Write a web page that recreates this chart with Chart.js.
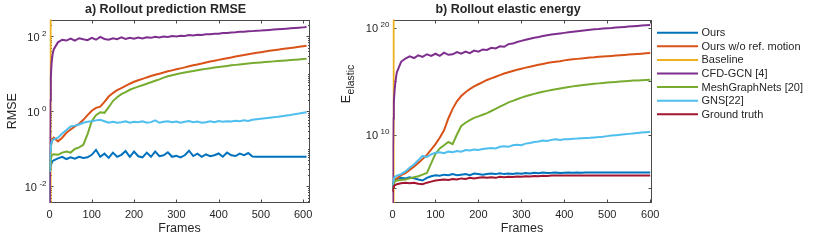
<!DOCTYPE html>
<html lang="en">
<head>
<meta charset="UTF-8">
<title>Rollout prediction RMSE / elastic energy</title>
<script src="https://cdn.jsdelivr.net/npm/chart.js"></script>
<style>
  body { margin: 0; background: #fff; }
  #wrap { position: relative; width: 830px; height: 240px; overflow: hidden; }
  #chartA, #chartB { position: absolute; top: 0; }
  #chartA { left: 0; }
  #chartB { left: 330px; }
</style>
</head>
<body>
<div id="wrap">
  <canvas id="chartA" width="330" height="240"></canvas>
  <canvas id="chartB" width="500" height="240"></canvas>
</div>
<script>
// legend / colours (MATLAB default order)
const seriesNames = ['Ours', 'Ours w/o ref. motion', 'Baseline', 'CFD-GCN [4]', 'MeshGraphNets [20]', 'GNS[22]', 'Ground truth'];
const seriesColors = ['#0072BD', '#D95319', '#EDB120', '#7E2F8E', '#77AC30', '#4DBEEE', '#A2142F'];
const xTicks = [0, 100, 200, 300, 400, 500, 600];

// a) rollout prediction RMSE
const framesA = [0, 1, 2, 3, 5, 7, 10, 20, 30, 40, 50, 60, 70, 80, 90, 100, 110, 120, 130, 140, 150,
  160, 170, 180, 190, 200, 210, 220, 230, 240, 250, 260, 270, 280, 290, 300, 310, 320, 330, 340, 350,
  360, 370, 380, 390, 400, 410, 420, 430, 440, 450, 460, 470, 480, 490, 500, 510, 520, 530, 540, 550,
  560, 570, 580, 590, 600, 608];
const rmseOurs = [0.003, 0.02, 0.03, 0.036, 0.042, 0.047, 0.05,
  0.056, 0.062, 0.054, 0.06, 0.055, 0.062, 0.058, 0.06, 0.07, 0.095,
  0.062, 0.075, 0.058, 0.08, 0.062, 0.07, 0.088, 0.062, 0.085, 0.064,
  0.06, 0.08, 0.062, 0.085, 0.064, 0.068, 0.082, 0.062, 0.066, 0.06,
  0.068, 0.09, 0.065, 0.075, 0.062, 0.072, 0.064, 0.068, 0.076, 0.062,
  0.08, 0.068, 0.065, 0.075, 0.068, 0.078, 0.063, 0.062, 0.062, 0.062,
  0.062, 0.062, 0.062, 0.062, 0.062, 0.062, 0.062, 0.062, 0.062, 0.062];
const rmseNoRef = [0.026, 0.05, 0.08, 0.11, 0.15, 0.18, 0.2,
  0.16, 0.2, 0.27, 0.33, 0.4, 0.47, 0.6, 0.8, 1.05, 1.25,
  1.35, 1.8, 2.5, 3.1, 3.7, 4.2, 4.8, 5.5, 6.2, 6.8,
  7.4, 8.1, 8.8, 9.5, 10.2, 11, 11.8, 12.5, 13.3, 14.1,
  15, 16, 17, 18, 19, 20.2, 21.4, 22.6, 23.8, 25,
  26.3, 27.7, 29.1, 30.5, 32, 33.5, 35, 36.6, 38.2, 39.8,
  41.4, 43, 44.6, 46.2, 47.8, 49.5, 51.2, 53, 55, 56.5];
const baseFramesA = [0, 2, 2.5];
const rmseBaseline = [0.0005, 0.003, 1000000];
const rmseCfdGcn = [0.002, 0.05, 2, 8, 20, 32, 45,
  70, 82, 78, 88, 78, 90, 84, 80, 92, 82,
  98, 86, 82, 90, 85, 95, 86, 92, 87, 94,
  89, 95, 92, 98, 94, 100, 97, 103, 100, 105,
  103, 109, 107, 112, 110, 115, 114, 119, 118, 123,
  124, 128, 129, 133, 134, 137, 139, 142, 144, 147,
  150, 153, 156, 159, 162, 165, 169, 172, 175, 178];
const rmseMgn = [0.026, 0.035, 0.045, 0.055, 0.065, 0.07, 0.072,
  0.07, 0.08, 0.085, 0.08, 0.1, 0.11, 0.13, 0.25, 0.55, 0.8,
  0.95, 0.92, 1.3, 1.9, 2.4, 2.9, 3.3, 3.8, 4.2, 4.6,
  5.0, 5.5, 6.0, 6.6, 7.2, 8.0, 8.7, 9.3, 9.9, 10.4,
  11, 11.5, 12, 12.6, 13.1, 13.7, 14.2, 14.8, 15.3, 15.8,
  16.4, 17, 17.5, 18, 18.5, 19, 19.5, 20, 20.4, 20.9,
  21.3, 21.7, 22.1, 22.6, 23, 23.5, 24, 24.5, 25, 25.3];
const rmseGns = [0.026, 0.06, 0.09, 0.12, 0.15, 0.17, 0.18,
  0.2, 0.26, 0.32, 0.4, 0.42, 0.45, 0.5, 0.53, 0.55, 0.58,
  0.6, 0.55, 0.5, 0.53, 0.5, 0.52, 0.55, 0.5, 0.53, 0.52,
  0.55, 0.5, 0.52, 0.58, 0.5, 0.53, 0.55, 0.52, 0.54, 0.5,
  0.53, 0.56, 0.52, 0.54, 0.5, 0.52, 0.55, 0.52, 0.56, 0.53,
  0.55, 0.54, 0.57, 0.55, 0.58, 0.56, 0.6, 0.62, 0.64, 0.66,
  0.68, 0.7, 0.72, 0.75, 0.78, 0.81, 0.85, 0.88, 0.92, 0.95];

// b) rollout elastic energy, stored as log10(E)
const framesB = [0, 1, 2, 3, 5, 7, 10, 20, 30, 40, 50, 60, 70, 80, 90, 100, 110, 120, 130, 140, 150,
  160, 170, 180, 190, 200, 210, 220, 230, 240, 250, 260, 270, 280, 290, 300, 310, 320, 330, 340, 350,
  360, 370, 380, 390, 400, 410, 420, 430, 440, 450, 460, 470, 480, 490, 500, 510, 520, 530, 540, 550,
  560, 570, 580, 590, 600];
const logEOurs = [4.7, 5.2, 5.5, 5.65, 5.75, 5.8, 5.85,
  5.95, 5.9, 6.0, 5.9, 5.8, 5.7, 5.95, 6.1, 6.2, 6.15,
  6.25, 6.2, 6.3, 6.2, 6.25, 6.3, 6.2, 6.35, 6.3, 6.25,
  6.3, 6.35, 6.3, 6.38, 6.3, 6.35, 6.32, 6.38, 6.33, 6.4,
  6.35, 6.42, 6.38, 6.45, 6.4, 6.42, 6.45, 6.4, 6.43, 6.45,
  6.42, 6.46, 6.43, 6.45, 6.44, 6.45, 6.45, 6.45, 6.45, 6.45,
  6.45, 6.45, 6.45, 6.45, 6.45, 6.45, 6.45, 6.45, 6.45];
const logENoRef = [4.9, 5.1, 5.3, 5.45, 5.6, 5.75, 5.9,
  6.2, 6.4, 6.7, 7.0, 7.35, 7.7, 8.1, 8.6, 9.1, 9.7,
  10.4, 11.5, 12.4, 13.1, 13.6, 13.95, 14.25, 14.5, 14.7, 14.9,
  15.1, 15.25, 15.4, 15.55, 15.7, 15.82, 15.94, 16.05, 16.15, 16.25,
  16.34, 16.43, 16.52, 16.6, 16.68, 16.75, 16.8, 16.85, 16.93, 16.98,
  17.03, 17.07, 17.11, 17.15, 17.19, 17.22, 17.26, 17.29, 17.32, 17.35,
  17.38, 17.41, 17.44, 17.47, 17.5, 17.53, 17.56, 17.59, 17.62];
const baseFramesB = [0, 1.5, 2.5];
const logEBaseline = [2, 3.5, 25];
const logECfdGcn = [3, 8, 11.5, 13, 14.2, 15, 15.8,
  16.8, 17.1, 17.3, 17.15, 17.4, 17.25, 17.5, 17.35, 17.55, 17.35,
  17.65, 17.45, 17.5, 17.7, 17.55, 17.75, 17.6, 17.85, 17.75, 17.95,
  17.9, 18.1, 18.05, 18.25, 18.2, 18.45, 18.5, 18.65, 18.75, 18.85,
  18.95, 19.05, 19.12, 19.2, 19.28, 19.34, 19.4, 19.45, 19.5, 19.55,
  19.6, 19.65, 19.7, 19.75, 19.8, 19.83, 19.86, 19.9, 19.93, 19.96,
  20.0, 20.03, 20.06, 20.09, 20.12, 20.15, 20.18, 20.21, 20.24];
const logEMgn = [4.9, 5.2, 5.4, 5.5, 5.6, 5.65, 5.7,
  5.75, 5.8, 5.9, 6.0, 6.1, 6.25, 6.4, 7.3, 8.2, 8.7,
  9.0, 9.3, 9.1, 10.0, 10.8, 11.1, 11.35, 11.55, 11.7, 11.85,
  12.0, 12.2, 12.4, 12.6, 12.8, 13.0, 13.15, 13.3, 13.45, 13.58,
  13.7, 13.8, 13.9, 14.0, 14.08, 14.16, 14.24, 14.31, 14.38, 14.44,
  14.5, 14.55, 14.6, 14.65, 14.7, 14.74, 14.78, 14.82, 14.86, 14.89,
  14.92, 14.95, 14.98, 15.01, 15.04, 15.06, 15.08, 15.1, 15.12];
const logEGns = [4.9, 5.4, 5.7, 5.9, 6.0, 6.1, 6.15,
  6.3, 6.55, 6.9, 7.2, 7.6, 8.0, 7.9, 8.15, 8.3, 8.35,
  8.25, 8.4, 8.35, 8.45, 8.4, 8.55, 8.5, 8.6, 8.55, 8.65,
  8.7, 8.75, 8.7, 8.85, 8.9, 8.85, 9.0, 9.05, 9.0, 9.15,
  9.2, 9.3, 9.35, 9.45, 9.4, 9.5, 9.55, 9.5, 9.55, 9.55,
  9.6, 9.62, 9.65, 9.68, 9.7, 9.73, 9.76, 9.8, 9.85, 9.9,
  9.94, 9.98, 10.02, 10.06, 10.1, 10.14, 10.18, 10.22, 10.26];
const logETruth = [4.7, 4.9, 5.05, 5.15, 5.25, 5.3, 5.35,
  5.45, 5.5, 5.45, 5.5, 5.4, 5.35, 5.5, 5.6, 5.7, 5.75,
  5.8, 5.75, 5.85, 5.8, 5.9, 5.85, 5.95, 5.9, 5.95, 6.0,
  5.95, 6.0, 5.95, 6.05, 6.0, 6.05, 6.02, 6.08, 6.05, 6.1,
  6.08, 6.12, 6.1, 6.15, 6.12, 6.18, 6.16, 6.18, 6.17, 6.18,
  6.18, 6.18, 6.18, 6.18, 6.18, 6.18, 6.18, 6.18, 6.18, 6.18,
  6.18, 6.18, 6.18, 6.18, 6.18, 6.18, 6.18, 6.18, 6.18];

const FONT = '"Liberation Sans", Arial, Helvetica, sans-serif';
const INK = '#262626';
const AXIS = '#4a4a4a';

function pts(xs, ys) {
  return xs.map((f, i) => ({ x: f, y: ys[i] }));
}
function series(i, data) {
  // later series drawn on top, like MATLAB
  return { label: seriesNames[i], data, borderColor: seriesColors[i], borderWidth: 2,
    pointRadius: 0, tension: 0, fill: false, order: -i };
}
const pow10 = a => a.map(v => Math.pow(10, v));

// box + inward ticks under the lines; tick labels, titles and legend on top
function framePlugin(cfg) {
  return {
    id: 'frame',
    beforeDatasetsDraw(chart) {
      const { ctx, chartArea: a, scales: { x, y } } = chart;
      const L = Math.round(a.left) + 0.5, R = Math.round(a.right) - 0.5;
      const T = Math.round(a.top) + 0.5, B = Math.round(a.bottom) - 0.5;
      ctx.save();
      ctx.strokeStyle = AXIS;
      ctx.lineWidth = 1;
      ctx.strokeRect(L, T, R - L, B - T);
      ctx.beginPath();
      xTicks.forEach(v => {
        const px = Math.round(x.getPixelForValue(v)) + 0.5;
        ctx.moveTo(px, B); ctx.lineTo(px, B - 3);
        ctx.moveTo(px, T); ctx.lineTo(px, T + 3);
      });
      cfg.majorTicks.forEach(v => {
        const py = Math.round(y.getPixelForValue(v)) + 0.5;
        if (py < T || py > B) return;
        ctx.moveTo(L, py); ctx.lineTo(L + 3, py);
        ctx.moveTo(R, py); ctx.lineTo(R - 3, py);
      });
      cfg.minorTicks.forEach(v => {
        const py = Math.round(y.getPixelForValue(v)) + 0.5;
        if (py < T || py > B) return;
        ctx.moveTo(L, py); ctx.lineTo(L + 1.5, py);
        ctx.moveTo(R, py); ctx.lineTo(R - 1.5, py);
      });
      ctx.stroke();
      ctx.restore();
    },
    afterDraw(chart) {
      const { ctx, chartArea: a, scales: { y } } = chart;
      ctx.save();
      // y tick labels 10^n
      ctx.fillStyle = INK;
      ctx.textBaseline = 'middle';
      ctx.textAlign = 'right';
      cfg.labelExps.forEach(e => {
        const py = y.getPixelForValue(Math.pow(10, e));
        const sup = String(e);
        ctx.font = '8px ' + FONT;
        const w = ctx.measureText(sup).width;
        ctx.fillText(sup, a.left - 3, py - 3);
        ctx.font = '11px ' + FONT;
        ctx.fillText('10', a.left - 3 - w - 2.5, py + 1.5);
      });

      // title
      ctx.textAlign = 'center';
      ctx.font = 'bold 12.5px ' + FONT;
      ctx.fillText(cfg.title, (a.left + a.right) / 2 - 14, 10);

      // y axis title (rotated, optional subscript)
      const cy = (a.top + a.bottom) / 2;
      ctx.save();
      ctx.translate(cfg.yTitleX, cy + cfg.yTitleShift);
      ctx.rotate(-Math.PI / 2);
      ctx.textAlign = 'left';
      ctx.font = '12.5px ' + FONT;
      const w1 = ctx.measureText(cfg.yTitle).width;
      let w2 = 0;
      if (cfg.ySub) { ctx.font = '10.5px ' + FONT; w2 = ctx.measureText(cfg.ySub).width; }
      const x0 = -(w1 + w2) / 2;
      ctx.font = '12.5px ' + FONT;
      ctx.fillText(cfg.yTitle, x0, 0);
      if (cfg.ySub) { ctx.font = '10.5px ' + FONT; ctx.fillText(cfg.ySub, x0 + w1 + 0.5, 4); }
      ctx.restore();

      // legend
      if (cfg.legendX !== undefined) {
        ctx.font = '11px ' + FONT;
        ctx.textAlign = 'left';
        ctx.lineWidth = 2;
        seriesNames.forEach((name, i) => {
          const ly = cfg.legendY + i * 13.6;
          ctx.strokeStyle = seriesColors[i];
          ctx.beginPath();
          ctx.moveTo(cfg.legendX, ly); ctx.lineTo(cfg.legendX + 41, ly);
          ctx.stroke();
          ctx.fillStyle = INK;
          ctx.fillText(name, cfg.legendX + 44.5, ly + 0.5);
        });
      }
      ctx.restore();
    }
  };
}

function baseOptions(xMax, yMin, yMax, yWidth, padRight) {
  return {
    responsive: false,
    animation: false,
    devicePixelRatio: 1,
    layout: { padding: { top: 19.5, right: padRight, bottom: 0, left: 0 } },
    plugins: { legend: { display: false }, title: { display: false }, tooltip: { enabled: false } },
    scales: {
      x: {
        type: 'linear', min: 0, max: xMax,
        afterBuildTicks: s => { s.ticks = xTicks.map(v => ({ value: v })); },
        afterFit: s => { s.height = 37; },
        grid: { display: false, drawTicks: false },
        border: { display: false },
        ticks: { font: { family: FONT, size: 11 }, color: INK, padding: 5, maxRotation: 0, autoSkip: false },
        title: { display: true, text: 'Frames', color: INK, font: { family: FONT, size: 12.5 }, padding: { top: 0, bottom: 4 } }
      },
      y: {
        type: 'logarithmic', min: yMin, max: yMax, bounds: 'data',
        afterFit: s => { s.width = yWidth; },
        grid: { display: false, drawTicks: false },
        border: { display: false },
        ticks: { display: false }
      }
    }
  };
}

// minor ticks for the RMSE axis: 2..9 x 10^n plus odd decades
const minorA = [];
[-3, -2, -1, 0, 1, 2].forEach(n => { for (let k = 2; k <= 9; k++) minorA.push(k * Math.pow(10, n)); });
minorA.push(0.1, 10);

new Chart(document.getElementById('chartA'), {
  type: 'line',
  data: {
    datasets: [
      series(0, pts(framesA, rmseOurs)),
      series(1, pts(framesA, rmseNoRef)),
      series(2, pts(baseFramesA, rmseBaseline)),
      series(3, pts(framesA, rmseCfdGcn)),
      series(4, pts(framesA, rmseMgn)),
      series(5, pts(framesA, rmseGns))
    ]
  },
  options: baseOptions(615, Math.pow(10, -2.44), Math.pow(10, 2.453), 49.5, 20.5),
  plugins: [framePlugin({
    title: 'a) Rollout prediction RMSE',
    yTitle: 'RMSE', ySub: '', yTitleX: 13, yTitleShift: 0,
    majorTicks: [0.01, 1, 100], minorTicks: minorA, labelExps: [-2, 0, 2]
  })]
});

new Chart(document.getElementById('chartB'), {
  type: 'line',
  data: {
    datasets: [
      series(0, pts(framesB, pow10(logEOurs))),
      series(1, pts(framesB, pow10(logENoRef))),
      series(2, pts(baseFramesB, pow10(logEBaseline))),
      series(3, pts(framesB, pow10(logECfdGcn))),
      series(4, pts(framesB, pow10(logEMgn))),
      series(5, pts(framesB, pow10(logEGns))),
      series(6, pts(framesB, pow10(logETruth)))
    ]
  },
  options: baseOptions(603, Math.pow(10, 3.6), Math.pow(10, 20.75), 62.5, 178.5),
  plugins: [framePlugin({
    title: 'b) Rollout elastic energy',
    yTitle: 'E', ySub: 'elastic', yTitleX: 17, yTitleShift: -27,
    majorTicks: [1e5, 1e10, 1e15, 1e20], minorTicks: [], labelExps: [10, 20],
    legendX: 327, legendY: 32.7
  })]
});
</script>
</body>
</html>
